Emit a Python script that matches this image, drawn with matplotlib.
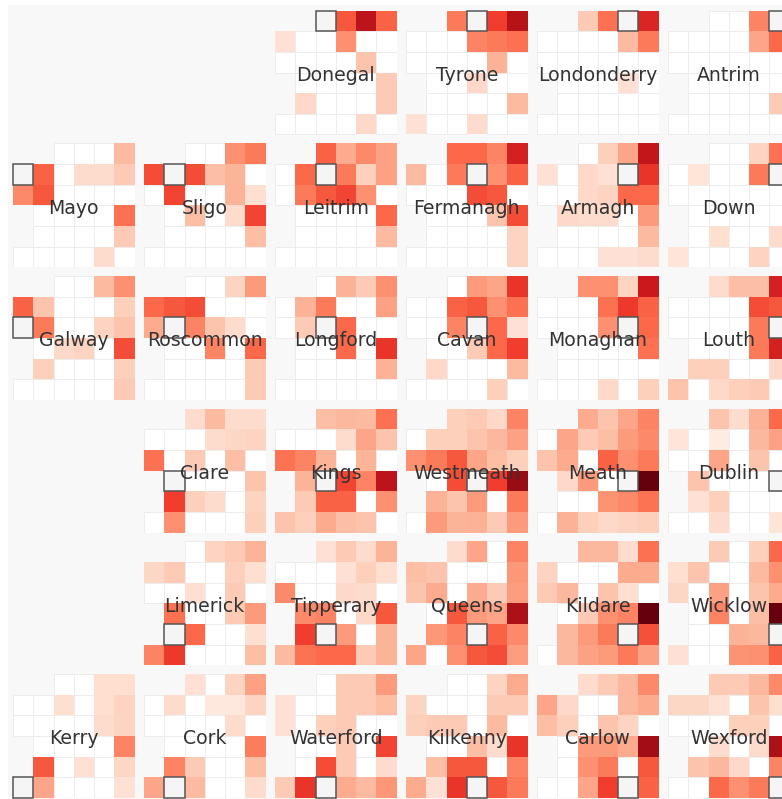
import matplotlib

matplotlib.use("Agg")
import matplotlib.pyplot as plt
from matplotlib.patches import Rectangle

# Cell values are on a 0-100 scale, -1 means "no cell" (off the map or the county itself).
_ = -1

DONEGAL = [[_, _, _, 55, 80, 52], [12, 0, 0, 38, 0, 0], [0, 0, 0, 0, 22, 0],
           [_, 0, 0, 0, 0, 20], [_, 15, 0, 0, 0, 20], [0, 0, 0, 0, 15, 0]]
TYRONE = [[_, _, 45, _, 62, 82], [0, 0, 0, 42, 45, 48], [0, 0, 0, 0, 28, 0],
          [_, 0, 0, 15, 0, 0], [_, 0, 0, 0, 0, 25], [12, 0, 0, 14, 0, 0]]
LONDONDERRY = [[_, _, 20, 48, _, 70], [0, 0, 0, 0, 25, 45], [0, 0, 0, 0, 0, 0],
               [_, 0, 0, 0, 12, 0], [_, 0, 0, 0, 0, 0], [0, 0, 0, 0, 0, 0]]
ANTRIM = [[_, _, 0, 0, 42, _], [0, 0, 0, 0, 32, 50], [0, 0, 0, 0, 0, 0],
          [_, 0, 0, 0, 0, 0], [_, 0, 0, 0, 0, 20], [0, 0, 0, 0, 0, 0]]

MAYO = [[_, _, 0, 0, 0, 25], [_, 52, 0, 14, 14, 20], [40, 55, 0, 0, 0, 0],
        [_, 0, 0, 0, 0, 48], [_, 0, 0, 0, 0, 20], [0, 0, 0, 0, 14, 0]]
SLIGO = [[_, _, 0, 0, 38, 45], [58, _, 58, 24, 27, 0], [0, 60, 0, 0, 27, 13],
         [_, 0, 24, 0, 14, 60], [_, 0, 0, 0, 0, 24], [0, 0, 0, 0, 0, 0]]
LEITRIM = [[_, _, 52, 30, 40, 33], [0, 50, _, 45, 18, 33], [0, 45, 55, 60, 38, 0],
           [_, 0, 0, 0, 0, 50], [_, 0, 0, 0, 0, 25], [0, 0, 0, 0, 0, 0]]
FERMANAGH = [[_, _, 50, 50, 42, 72], [25, 0, 45, _, 38, 52], [0, 0, 0, 58, 55, 0],
             [_, 0, 0, 0, 22, 58], [_, 0, 0, 0, 0, 17], [0, 0, 0, 0, 0, 17]]
ARMAGH = [[_, _, 0, 18, 32, 78], [12, 0, 15, 12, _, 65], [0, 0, 15, 17, 50, 50],
          [_, 15, 14, 14, 0, 35], [_, 0, 0, 0, 0, 25], [0, 0, 0, 12, 12, 14]]
DOWN = [[_, _, 0, 0, 17, 48], [0, 10, 0, 0, 45, _], [0, 0, 0, 0, 0, 0],
        [_, 0, 0, 0, 0, 0], [_, 0, 13, 0, 0, 14], [10, 0, 0, 0, 17, 0]]

GALWAY = [[_, _, 0, 0, 25, 38], [52, 22, 0, 0, 0, 18], [_, 45, 0, 0, 17, 22],
          [_, 0, 15, 17, 0, 58], [_, 18, 0, 0, 0, 18], [0, 0, 0, 0, 0, 20]]
ROSCOMMON = [[_, _, 0, 0, 17, 35], [50, 55, 58, 0, 0, 0], [30, _, 42, 22, 14, 0],
             [_, 0, 0, 42, 0, 50], [_, 0, 0, 0, 0, 20], [0, 0, 0, 0, 0, 20]]
LONGFORD = [[_, _, 0, 28, 20, 38], [0, 28, 45, 0, 0, 33], [0, 20, _, 50, 0, 0],
            [_, 0, 0, 50, 0, 65], [_, 0, 0, 0, 0, 28], [0, 0, 0, 0, 0, 0]]
CAVAN = [[_, _, 0, 35, 32, 65], [0, 0, 52, 55, 38, 48], [0, 0, 42, _, 50, 12],
         [_, 0, 0, 20, 50, 62], [_, 15, 0, 0, 0, 25], [0, 0, 0, 0, 18, 0]]
MONAGHAN = [[_, _, 38, 38, 17, 75], [0, 0, 0, 48, 63, 52], [0, 0, 0, 38, _, 50],
            [_, 0, 0, 0, 0, 48], [_, 0, 0, 0, 0, 0], [0, 0, 0, 15, 0, 18]]
LOUTH = [[_, _, 14, 24, 24, 72], [0, 0, 0, 0, 58, 55], [0, 0, 0, 0, 45, _],
         [_, 0, 0, 0, 45, 72], [_, 18, 18, 0, 0, 15], [22, 0, 15, 18, 20, 0]]

CLARE = [[_, _, 14, 25, 14, 14], [0, 0, 0, 14, 16, 17], [48, 0, 20, 0, 24, 0],
         [_, _, 0, 0, 0, 22], [_, 62, 18, 14, 0, 17], [0, 38, 0, 0, 0, 18]]
KINGS = [[_, _, 24, 26, 25, 48], [0, 0, 0, 14, 32, 22], [47, 42, 27, 0, 27, 0],
         [_, 27, _, 60, 42, 80], [_, 20, 52, 52, 0, 38], [22, 18, 30, 24, 22, 0]]
WESTMEATH = [[_, _, 18, 20, 15, 42], [0, 18, 18, 22, 26, 33], [38, 45, 55, 32, 24, 18],
             [_, 0, 58, _, 62, 90], [_, 28, 22, 35, 0, 45], [0, 35, 27, 28, 20, 35]]
MEATH = [[_, _, 30, 22, 32, 42], [0, 32, 20, 24, 35, 40], [22, 30, 0, 52, 38, 45],
         [_, 15, 35, 0, _, 100], [_, 0, 0, 37, 40, 47], [0, 28, 18, 15, 17, 18]]
DUBLIN = [[_, _, 22, 14, 28, 50], [10, 0, 6, 0, 26, 33], [0, 0, 32, 0, 22, 0],
          [_, 22, 0, 0, 0, _], [_, 12, 18, 0, 0, 0], [0, 0, 14, 0, 0, 10]]

LIMERICK = [[_, _, 0, 17, 20, 27], [16, 20, 0, 0, 18, 13], [0, 0, 13, 0, 20, 0],
            [_, 48, 0, 0, 20, 35], [_, _, 50, 0, 0, 13], [42, 63, 0, 0, 0, 24]]
TIPPERARY = [[_, _, 12, 20, 14, 27], [0, 0, 0, 12, 18, 13], [40, 0, 0, 15, 14, 0],
             [_, 40, 42, 0, 15, 55], [_, 62, _, 35, 0, 27], [25, 47, 50, 50, 20, 27]]
QUEENS = [[_, _, 14, 32, 0, 42], [24, 22, 0, 0, 0, 36], [22, 30, 0, 30, 20, 34],
          [_, 0, 55, 35, 32, 85], [_, 36, 42, _, 52, 40], [32, 0, 38, 55, 58, 34]]
KILDARE = [[_, _, 26, 26, 14, 48], [17, 0, 0, 0, 30, 30], [20, 26, 0, 22, 13, 0],
           [_, 0, 20, 38, 42, 100], [_, 26, 35, 45, _, 57], [0, 26, 33, 35, 45, 33]]
WICKLOW = [[_, _, 20, 0, 18, 50], [13, 22, 0, 0, 25, 38], [16, 0, 33, 0, 22, 30],
           [_, 0, 42, 0, 24, 100], [_, 0, 0, 28, 26, _], [12, 0, 0, 37, 38, 52]]

KERRY = [[_, _, 0, 0, 13, 13], [0, 0, 13, 0, 13, 17], [0, 0, 0, 0, 14, 17],
         [_, 0, 0, 0, 0, 42], [_, 55, 0, 12, 0, 16], [_, 32, 0, 0, 0, 12]]
CORK = [[_, _, 12, 0, 17, 33], [0, 14, 0, 8, 8, 17], [0, 0, 0, 0, 14, 0],
        [_, 0, 0, 0, 0, 44], [_, 42, 20, 0, 0, 24], [32, _, 25, 0, 0, 14]]
WATERFORD = [[_, _, 0, 20, 20, 35], [12, 0, 0, 20, 20, 24], [12, 0, 18, 20, 0, 0],
             [_, 0, 0, 20, 0, 60], [_, 0, 58, 20, 0, 14], [20, 65, _, 30, 25, 36]]
KILKENNY = [[_, _, 0, 0, 17, 30], [17, 0, 0, 0, 20, 20], [18, 20, 20, 0, 25, 0],
            [_, 0, 0, 24, 14, 65], [_, 24, 55, 55, 0, 42], [30, 12, 65, _, 55, 45]]
CARLOW = [[_, _, 14, 20, 26, 40], [32, 15, 0, 0, 26, 30], [24, 18, 0, 22, 17, 0],
          [_, 0, 35, 35, 30, 88], [_, 0, 38, 45, 0, 55], [0, 0, 32, 62, _, 52]]
WEXFORD = [[_, _, 20, 20, 26, 40], [16, 16, 12, 0, 22, 13], [0, 0, 0, 18, 18, 0],
           [_, 0, 14, 0, 14, 85], [_, 22, 26, 15, 0, 42], [0, 0, 50, 38, 45, _]]

# county name, map row, map column, values
PANELS = [
    ("Donegal", 0, 2, DONEGAL), ("Tyrone", 0, 3, TYRONE),
    ("Londonderry", 0, 4, LONDONDERRY), ("Antrim", 0, 5, ANTRIM),
    ("Mayo", 1, 0, MAYO), ("Sligo", 1, 1, SLIGO), ("Leitrim", 1, 2, LEITRIM),
    ("Fermanagh", 1, 3, FERMANAGH), ("Armagh", 1, 4, ARMAGH), ("Down", 1, 5, DOWN),
    ("Galway", 2, 0, GALWAY), ("Roscommon", 2, 1, ROSCOMMON), ("Longford", 2, 2, LONGFORD),
    ("Cavan", 2, 3, CAVAN), ("Monaghan", 2, 4, MONAGHAN), ("Louth", 2, 5, LOUTH),
    ("Clare", 3, 1, CLARE), ("Kings", 3, 2, KINGS), ("Westmeath", 3, 3, WESTMEATH),
    ("Meath", 3, 4, MEATH), ("Dublin", 3, 5, DUBLIN),
    ("Limerick", 4, 1, LIMERICK), ("Tipperary", 4, 2, TIPPERARY), ("Queens", 4, 3, QUEENS),
    ("Kildare", 4, 4, KILDARE), ("Wicklow", 4, 5, WICKLOW),
    ("Kerry", 5, 0, KERRY), ("Cork", 5, 1, CORK), ("Waterford", 5, 2, WATERFORD),
    ("Kilkenny", 5, 3, KILKENNY), ("Carlow", 5, 4, CARLOW), ("Wexford", 5, 5, WEXFORD),
]

W, H = 782, 799
LEFT, TOP = 13.0, 10.5
PITCH_X, PITCH_Y = 131.0, 132.7
PANEL_W, PANEL_H = 121.5, 124.0
BG = "#f8f8f8"

reds = plt.get_cmap("Reds")


def cell_color(v):
    return "white" if v == 0 else reds(v / 100)


fig = plt.figure(figsize=(W / 100, H / 100), dpi=100, facecolor="white")
fig.add_artist(Rectangle((8 / W, 0), 1, 1 - 5 / H, transform=fig.transFigure,
                         color=BG, lw=0, zorder=-1))

for name, row, col, values in PANELS:
    ax = fig.add_axes([(LEFT + col * PITCH_X) / W,
                       1 - (TOP + row * PITCH_Y + PANEL_H) / H,
                       PANEL_W / W, PANEL_H / H])
    ax.set_xlim(0, 6)
    ax.set_ylim(6, 0)
    ax.axis("off")
    for r, line in enumerate(values):
        for c, v in enumerate(line):
            if v == _:
                continue
            ax.add_patch(Rectangle((c, r), 1, 1, facecolor=cell_color(v),
                                   edgecolor="#ececec" if v == 0 else "none", lw=0.7))
    # the county itself: outlined cell at its own map position
    ax.add_patch(Rectangle((col, row), 1, 1, facecolor="#f5f5f5", edgecolor="#555555",
                           lw=1.1, zorder=3, clip_on=False))
    ax.text(3, 3.14, name, ha="center", va="center", fontsize=13.6, color="#333333", zorder=4)

fig.savefig("out.png", dpi=100, facecolor="white")
